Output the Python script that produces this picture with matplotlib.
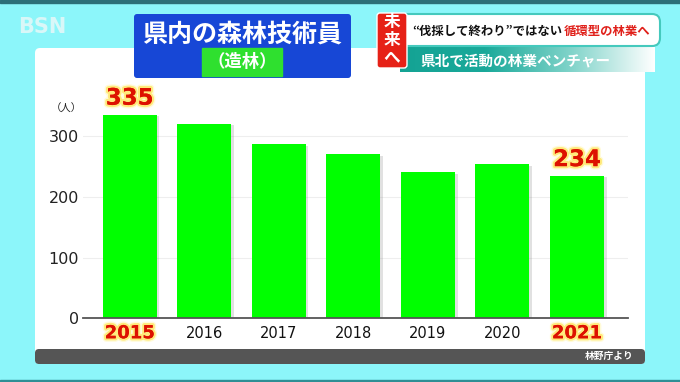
import matplotlib
matplotlib.use("Agg")
import matplotlib.pyplot as plt
import matplotlib.patheffects as pe
import matplotlib.transforms as mtransforms
from matplotlib.patches import FancyBboxPatch, Rectangle
from matplotlib.colors import LinearSegmentedColormap
import numpy as np

# ---- data ----
years = ["2015", "2016", "2017", "2018", "2019", "2020", "2021"]
values = [335, 320, 286, 270, 240, 253, 234]
highlight = [True, False, False, False, False, False, True]
yticks = [0, 100, 200, 300]
unit_label = "（人）"
title = "県内の森林技術員"
subtitle = "（造林）"
source = "林野庁より"
banner_tag = "未\n来\nへ"
banner_main = "“伐採して終わり”ではない"
banner_red = "循環型の林業へ"
banner_sub = "県北で活動の林業ベンチャー"
logo = "BSN"

CJK = ["Noto Sans CJK JP", "DejaVu Sans"]
W, H = 680, 382
fig = plt.figure(figsize=(W / 100, H / 100), dpi=100)
fig.patch.set_facecolor("#8cf6fa")

# background/decor axes in pixel coordinates
bg = fig.add_axes([0, 0, 1, 1])
bg.set_xlim(0, W)
bg.set_ylim(H, 0)
bg.axis("off")

# dark strips
bg.add_patch(Rectangle((0, 0), W, 3, color="#2c6f78", zorder=1))
bg.add_patch(Rectangle((0, 379.5), W, 3, color="#2f8f95", zorder=1))

# logo
bg.text(42, 27, logo, color="#e2f8f8", fontsize=15, fontweight="bold",
        ha="center", va="center", alpha=0.9, family="DejaVu Sans", zorder=2)

# white panel + gray footer
bg.add_patch(FancyBboxPatch((35, 48), 610, 316, boxstyle="round,pad=0,rounding_size=5",
                            fc="white", ec="none", zorder=2))
bg.add_patch(FancyBboxPatch((35, 349), 610, 15, boxstyle="round,pad=0,rounding_size=4",
                            fc="#555555", ec="none", zorder=3))
bg.text(634, 356.5, source, color="white", fontsize=7, fontweight="bold",
        ha="right", va="center", family=CJK, zorder=4)

# title box
bg.add_patch(FancyBboxPatch((134, 14), 217, 64, boxstyle="round,pad=0,rounding_size=3",
                            fc="#1747d6", ec="none", zorder=5))
bg.text(242, 34.5, title, color="white", fontsize=18, fontweight="bold",
        ha="center", va="center", family=CJK, zorder=6)
bg.add_patch(Rectangle((202, 48), 80, 28, color="#2fe02f", zorder=6))
bg.text(242, 62, subtitle, color="white", fontsize=12.5, fontweight="bold",
        ha="center", va="center", family=CJK, zorder=7)

# teal sub-banner with gradient
grad = np.linspace(0, 1, 256).reshape(1, -1)
tealcm = LinearSegmentedColormap.from_list("teal", ["#14a394", "#1aa99a", "#7fd3c9", "#ffffff"])
bg.imshow(grad, extent=(400, 655, 72, 47), cmap=tealcm, aspect="auto", zorder=5)
bg.text(420, 60.5, banner_sub, color="white", fontsize=10.5, fontweight="bold",
        ha="left", va="center", family=CJK, zorder=6)

# white main banner
bg.add_patch(FancyBboxPatch((400, 14), 260, 32, boxstyle="round,pad=0,rounding_size=8",
                            fc="white", ec="#45c9bd", lw=1.5, zorder=6))
bg.text(412, 31, banner_main, color="#111111", fontsize=8.9, fontweight="bold",
        ha="left", va="center", family=CJK, zorder=7)
bg.text(564, 31, banner_red, color="#e0201a", fontsize=8.9, fontweight="bold",
        ha="left", va="center", family=CJK, zorder=7)

# red tag
bg.add_patch(FancyBboxPatch((377, 13), 30, 55, boxstyle="round,pad=0,rounding_size=3",
                            fc="#e62117", ec="white", lw=1.0, zorder=8))
bg.text(392, 40, banner_tag, color="white", fontsize=12, fontweight="bold",
        ha="center", va="center", linespacing=1.0, family=CJK, zorder=9)

# ---- main chart axes ----
left, right, bottom, top = 82.7, 628.3, 318.3, 90.0
ax = fig.add_axes([left / W, (H - bottom) / H, (right - left) / W, (bottom - top) / H])
ax.set_facecolor("none")
x = np.arange(len(years))
ax.set_xlim(-0.63, 6.69)
ax.set_ylim(0, 375.5)

for yv in yticks[1:]:
    ax.axhline(yv, color="#eeeeee", lw=0.8, zorder=0)

bars = ax.bar(x, values, width=0.724, color="#00ff00", zorder=2)
for b in bars:
    b.set_path_effects([pe.SimplePatchShadow(offset=(2, -1), shadow_rgbFace="#888888", alpha=0.25),
                        pe.Normal()])

for s in ["top", "right", "left"]:
    ax.spines[s].set_visible(False)
ax.spines["bottom"].set_color("#555555")
ax.spines["bottom"].set_linewidth(1.3)
ax.spines["bottom"].set_zorder(3)

ax.set_yticks(yticks)
ax.set_yticklabels([str(t) for t in yticks], fontsize=11.5, color="#222222", family="DejaVu Sans")
ax.tick_params(axis="y", length=0, pad=2.7)
ax.set_xticks([])

glow = [pe.withStroke(linewidth=5, foreground="#fffbd8"),
        pe.withStroke(linewidth=3, foreground="#ffe97a"),
        pe.Normal()]

off = mtransforms.ScaledTranslation(0, -15 / 100, fig.dpi_scale_trans)
for xi, yr, hl in zip(x, years, highlight):
    if hl:
        ax.text(xi, 0, yr, transform=ax.get_xaxis_transform() + off, ha="center", va="center",
                fontsize=13, fontweight="bold", color="#dd1100", family="DejaVu Sans",
                path_effects=glow, clip_on=False)
    else:
        ax.text(xi, 0, yr, transform=ax.get_xaxis_transform() + off, ha="center", va="center",
                fontsize=10.5, color="#111111", family="DejaVu Sans", clip_on=False)

for xi, v, hl in zip(x, values, highlight):
    if hl:
        ax.annotate(str(v), (xi, v), xytext=(0, 11.8), textcoords="offset points",
                    ha="center", va="center", fontsize=16.5, fontweight="bold",
                    color="#dd1100", family="DejaVu Sans", path_effects=glow, zorder=5)

bg.text(66.5, 109, unit_label, color="#222222", fontsize=7.5, ha="center", va="center",
        family=CJK, zorder=4)

fig.savefig("out.png", dpi=100, facecolor=fig.get_facecolor())
